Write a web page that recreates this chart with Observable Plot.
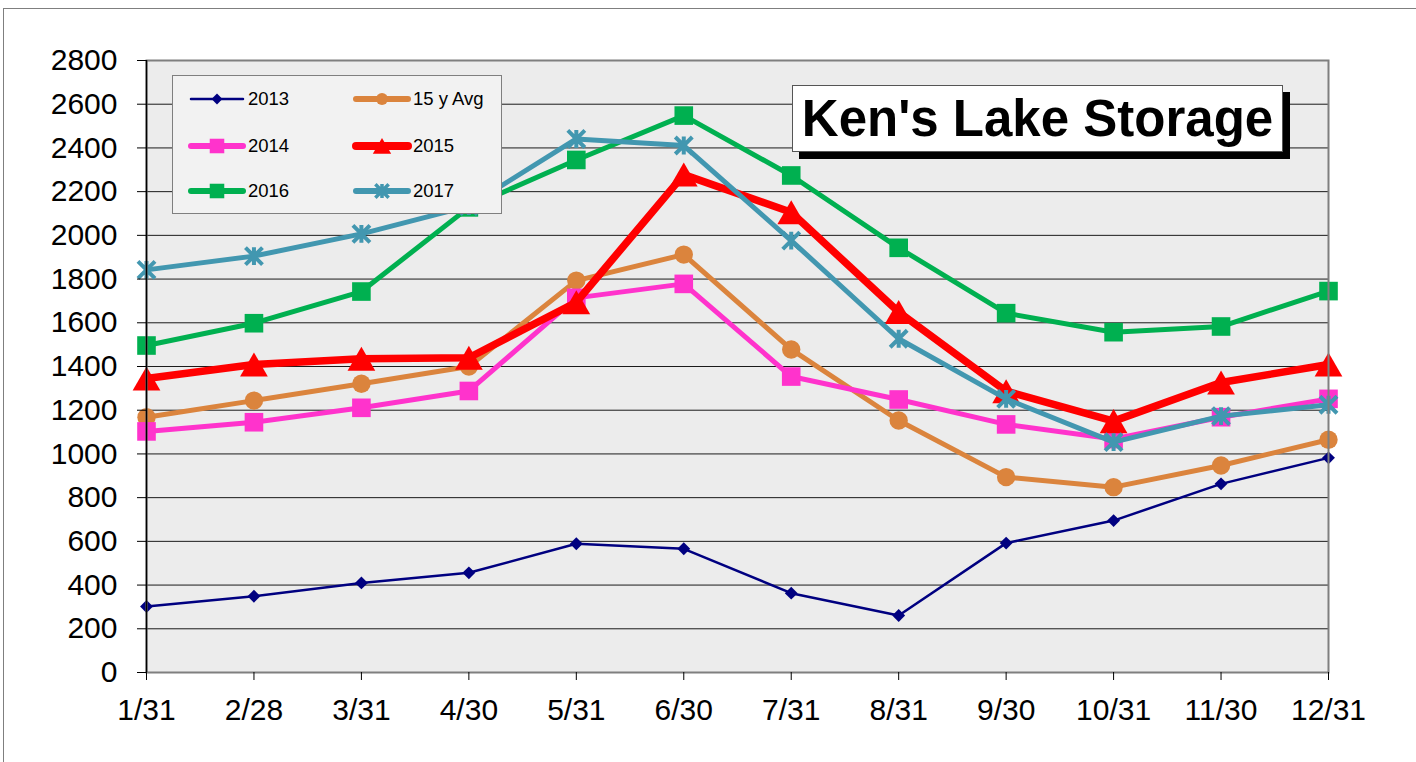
<!DOCTYPE html>
<html>
<head>
<meta charset="utf-8">
<script src="https://cdn.jsdelivr.net/npm/d3@7"></script>
<script src="https://cdn.jsdelivr.net/npm/@observablehq/plot@0.6"></script>
<style>
  html, body { margin: 0; padding: 0; overflow: hidden; background: #fff; }
  #wrap { position: relative; width: 1416px; height: 762px; font-family: "Liberation Sans", Arial, sans-serif; }
  #frame { position: absolute; left: 3px; top: 8px; width: 1440px; height: 800px; border: 1px solid #7f7f7f; box-sizing: border-box; }
  #chart { position: absolute; left: 0; top: 0; }
  #title { position: absolute; left: 792px; top: 85px; width: 491px; height: 67px; background: #fff; border: 1px solid #555;
           box-sizing: border-box; box-shadow: 7px 7px 0 #000; display: flex; align-items: center; justify-content: center;
           font-weight: bold; font-size: 51px; color: #000; white-space: nowrap; }
  #legend { position: absolute; left: 172px; top: 75px; width: 330px; height: 139px; background: #f2f2f2;
            border: 1.5px solid #7f7f7f; box-sizing: border-box; }
  .entry { position: absolute; height: 24px; display: flex; align-items: center; font-size: 18.5px; color: #000; }
  .entry svg { margin-right: 3px; overflow: visible; }
</style>
</head>
<body>
<div id="wrap">
  <div id="frame"></div>
  <div id="chart"></div>
  <div id="legend"></div>
  <div id="title">Ken's Lake Storage</div>
</div>
<script>
// ---- data ----
const months = ["1/31","2/28","3/31","4/30","5/31","6/30","7/31","8/31","9/30","10/31","11/30","12/31"];
const s2013 = [302, 349, 410, 456, 589, 566, 363, 261, 592, 695, 863, 982];
const sAvg  = [1168, 1244, 1321, 1400, 1793, 1912, 1478, 1153, 894, 848, 947, 1065];
const s2014 = [1103, 1145, 1211, 1288, 1714, 1778, 1354, 1249, 1135, 1068, 1168, 1252];
const s2015 = [1345, 1409, 1435, 1440, 1694, 2278, 2106, 1649, 1287, 1150, 1327, 1409];
const s2016 = [1496, 1598, 1743, 2128, 2345, 2548, 2274, 1943, 1644, 1557, 1583, 1745];
const s2017 = [1842, 1905, 2007, 2134, 2441, 2411, 1976, 1527, 1252, 1054, 1173, 1225];
const seriesNames = ["2013", "15 y Avg", "2014", "2015", "2016", "2017"];
const yTicks = [0, 200, 400, 600, 800, 1000, 1200, 1400, 1600, 1800, 2000, 2200, 2400, 2600, 2800];
const titleText = "Ken's Lake Storage";

// ---- custom star symbol (X + vertical) ----
const starSymbol = {
  draw(context, size) {
    const h = Math.sqrt(size) * 0.5;
    context.moveTo(-h, -h); context.lineTo(h, h);
    context.moveTo(-h, h); context.lineTo(h, -h);
    context.moveTo(0, -h * 1.05); context.lineTo(0, h * 1.05);
  }
};

// ---- styles ----
const styles = [
  {color: "#000080", width: 2.5, symbol: "diamond2", r: 5.8, fill: true, dy: 0, lw: 2.5, lr: 4.9},
  {color: "#DB843D", width: 5,   symbol: "circle",   r: 9.2, fill: true, dy: 0, lw: 6, lr: 6},
  {color: "#FF33CC", width: 5,   symbol: "square",   r: 10.5, fill: true, dy: 0, lw: 6, lr: 8.2},
  {color: "#FF0000", width: 7.5, symbol: "triangle", r: 10.3, fill: true, dy: 4, lw: 8, lr: 6.8},
  {color: "#00B050", width: 5,   symbol: "square",   r: 10.5, fill: true, dy: 0, lw: 6, lr: 8.2},
  {color: "#4297B0", width: 5,   symbol: starSymbol, r: 9.6, fill: false, dy: 0, lw: 6, lr: 7.5, sw: 4}
];
const allValues = [s2013, sAvg, s2014, s2015, s2016, s2017];

const marks = [
  Plot.frame({fill: "#ececec", stroke: null}),
  Plot.ruleY(yTicks, {stroke: "#1a1a1a", strokeWidth: 1})
];
allValues.forEach((vals, i) => {
  const st = styles[i];
  const rows = months.map((m, j) => ({month: m, value: vals[j], series: seriesNames[i]}));
  marks.push(Plot.line(rows, {x: "month", y: "value", stroke: st.color, strokeWidth: st.width,
    strokeLinejoin: "round", strokeLinecap: "round"}));
  marks.push(Plot.dot(rows, {x: "month", y: "value", symbol: st.symbol, r: st.r, dy: st.dy,
    fill: st.fill ? st.color : "none", stroke: st.fill ? "none" : st.color, strokeWidth: st.sw || 0}));
});
marks.push(Plot.frame({stroke: "#7f7f7f", strokeWidth: 2}));
marks.push(Plot.ruleX([months[0]], {stroke: "#000", strokeWidth: 1.5}));
marks.push(Plot.axisY({ticks: yTicks, tickFormat: "d", tickSize: 9, tickPadding: 20, fontSize: 30, label: null}));
marks.push(Plot.axisX({tickSize: 8, tickPadding: 18, fontSize: 30, label: null}));

const chart = Plot.plot({
  width: 1416,
  height: 762,
  marginLeft: 146,
  marginRight: 88,
  marginTop: 60,
  marginBottom: 90,
  style: {fontFamily: "'Liberation Sans', Arial, sans-serif", background: "transparent", color: "#000"},
  x: {type: "point", domain: months, padding: 0, round: false},
  y: {domain: [0, 2800]},
  marks
});
document.getElementById("chart").appendChild(chart);

// ---- legend ----
const legend = document.getElementById("legend");
const positions = [[16, 23], [181, 23], [16, 70], [181, 70], [16, 115], [181, 115]];
seriesNames.forEach((name, i) => {
  const st = styles[i];
  const e = document.createElement("div");
  e.className = "entry";
  e.style.left = positions[i][0] + "px";
  e.style.top = (positions[i][1] - 12) + "px";
  const svg = d3.create("svg").attr("width", 56).attr("height", 24);
  svg.append("line").attr("x1", 2).attr("x2", 54).attr("y1", 12).attr("y2", 12)
    .attr("stroke", st.color).attr("stroke-width", st.lw).attr("stroke-linecap", "round");
  const symType = st.symbol === "diamond2" ? d3.symbolDiamond2 : st.symbol === "circle" ? d3.symbolCircle :
    st.symbol === "square" ? d3.symbolSquare : st.symbol === "triangle" ? d3.symbolTriangle : st.symbol;
  const path = svg.append("path").attr("d", d3.symbol(symType, Math.PI * st.lr * st.lr)())
    .attr("transform", `translate(28,${12 + (st.symbol === "triangle" ? 2.5 : 0)})`);
  if (st.fill) path.attr("fill", st.color);
  else path.attr("fill", "none").attr("stroke", st.color).attr("stroke-width", 3.5);
  e.appendChild(svg.node());
  const t = document.createElement("span");
  t.textContent = name;
  e.appendChild(t);
  legend.appendChild(e);
});
document.getElementById("title").textContent = titleText;
</script>
</body>
</html>
